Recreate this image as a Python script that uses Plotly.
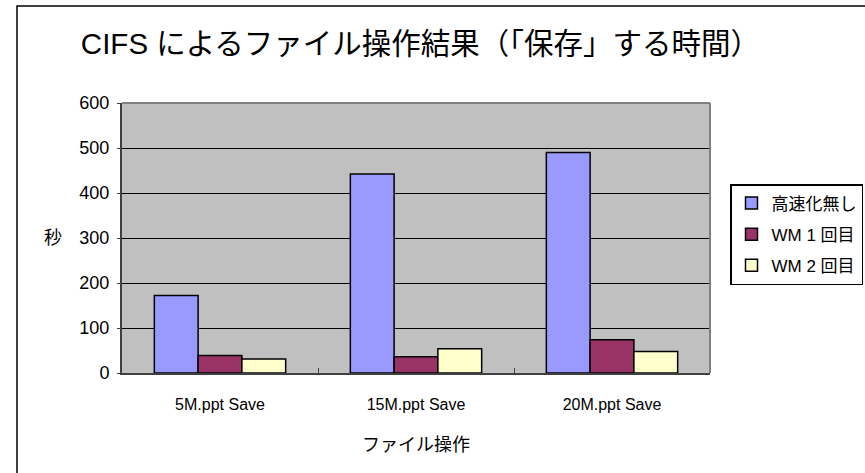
import plotly.graph_objects as go

categories = ["5M.ppt Save", "15M.ppt Save", "20M.ppt Save"]
series_names = ["高速化無し", "WM 1 回目", "WM 2 回目"]
no_accel = [172, 442, 490]
wm_first = [39, 36, 74]
wm_second = [31, 54, 48]
y_ticks = [0, 100, 200, 300, 400, 500, 600]

colors = ["#9999FF", "#993366", "#FFFFCC"]
FONT = "Liberation Sans, Arial, Noto Sans CJK JP, sans-serif"

W, H = 865, 473
L, R, T, B = 122, 155, 103, 100
PW, PH = W - L - R, H - T - B

fig = go.Figure()
for name, vals, col in zip(series_names, [no_accel, wm_first, wm_second], colors):
    fig.add_trace(go.Bar(
        x=categories, y=vals, name=name, legendgroup=name,
        marker=dict(color=col, line=dict(color="black", width=1.5)),
    ))

fig.update_layout(
    width=W, height=H,
    margin=dict(l=L, r=R, t=T, b=B, autoexpand=False),
    paper_bgcolor="white",
    plot_bgcolor="#C0C0C0",
    barmode="group",
    bargap=0.33,
    bargroupgap=0,
    font=dict(family=FONT, color="black"),
    title=dict(
        text="CIFS によるファイル操作結果（「保存」する時間）",
        font=dict(size=29.5, family=FONT, color="black"),
        x=(88 + 753) / 2 / W, xanchor="center",
        y=1 - 44 / H, yanchor="middle",
    ),
    xaxis=dict(
        type="category",
        showgrid=False,
        ticks="inside", tickson="boundaries", ticklen=5, tickcolor="#404040",
        tickfont=dict(size=16, family=FONT),
        ticklabelstandoff=16,
        showline=True, linecolor="#404040", linewidth=1.5,
        mirror=False,
        title=dict(text="ファイル操作", font=dict(size=18, family=FONT), standoff=26),
        fixedrange=True,
    ),
    yaxis=dict(
        range=[0, 600],
        tickmode="array", tickvals=y_ticks,
        showgrid=True, gridcolor="black", gridwidth=1,
        ticks="outside", ticklen=3, tickcolor="#404040",
        tickfont=dict(size=18, family=FONT),
        ticklabelstandoff=4,
        showline=True, linecolor="#404040", linewidth=2,
        zeroline=False,
        fixedrange=True,
    ),
    legend=dict(
        x=(730 - L) / PW, xanchor="left",
        y=(H - B - 184) / PH, yanchor="top",
        bgcolor="white", bordercolor="black", borderwidth=1.5,
        font=dict(size=17, family=FONT),
        tracegroupgap=6,
        itemwidth=30,
    ),
    showlegend=True,
)

# plot-area top and right border
fig.add_shape(type="line", xref="paper", yref="paper", x0=0, x1=1, y0=1, y1=1,
              line=dict(color="#808080", width=2))
fig.add_shape(type="line", xref="paper", yref="paper", x0=1, x1=1, y0=0, y1=1,
              line=dict(color="#808080", width=2))

# outer chart frame (top and left edges visible)
fx0 = (17 - L) / PW
fy1 = (H - B - 6) / PH
fx1 = (W + 5 - L) / PW
fy0 = (-B - 5) / PH
fig.add_shape(type="rect", xref="paper", yref="paper", x0=fx0, x1=fx1, y0=fy0, y1=fy1,
              line=dict(color="black", width=1.5), fillcolor="rgba(0,0,0,0)", layer="below")

# y-axis label "秒" (horizontal)
fig.add_annotation(text="秒", xref="paper", yref="y", x=(53 - L) / PW, y=300,
                   showarrow=False, font=dict(size=18, family=FONT), xanchor="center", yanchor="middle")

fig.write_html("out.html", config={"displayModeBar": False},
               post_script="document.body.style.margin='0';")
